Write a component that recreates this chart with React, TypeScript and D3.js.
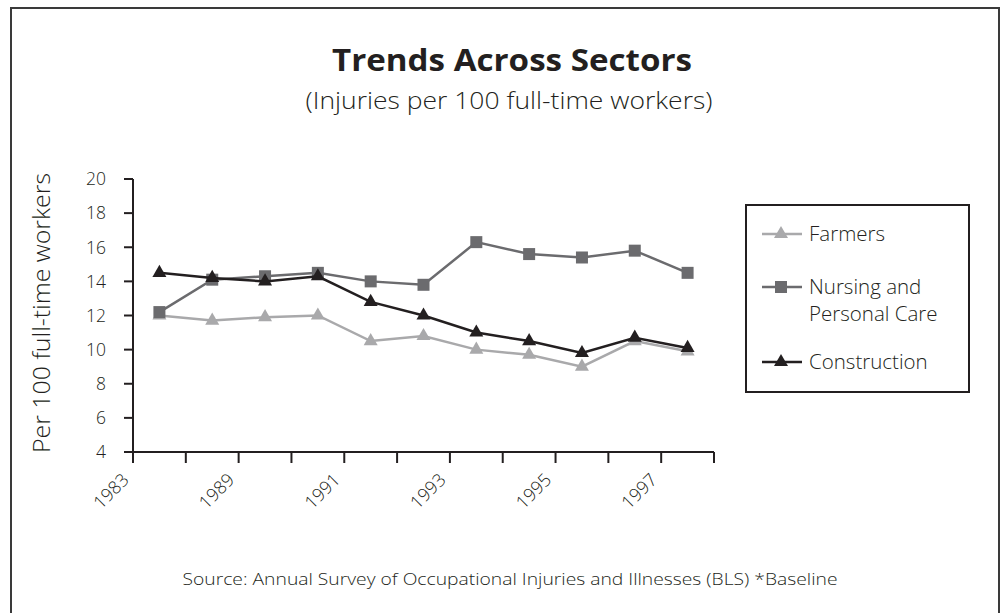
import React from "react";
import * as d3 from "d3";

const categories = ["1983", "1985", "1989", "1990", "1991", "1992", "1993", "1994", "1995", "1996", "1997"];
const tickLabels = ["1983", "1989", "1991", "1993", "1995", "1997"];
const tickLabelBoundaries = [0, 2, 4, 6, 8, 10];
const farmers = [12.0, 11.7, 11.9, 12.0, 10.5, 10.8, 10.0, 9.7, 9.0, 10.5, 9.9];
const nursing = [12.2, 14.1, 14.3, 14.5, 14.0, 13.8, 16.3, 15.6, 15.4, 15.8, 14.5];
const construction = [14.5, 14.2, 14.0, 14.3, 12.8, 12.0, 11.0, 10.5, 9.8, 10.7, 10.1];
const yTicks = [4, 6, 8, 10, 12, 14, 16, 18, 20];

const FONT = "'Open Sans', 'Noto Sans', sans-serif";
const LIGHT = 300;

const series = [
  { name: ["Farmers"], values: farmers, color: "#a9a9ab", marker: "triangle" },
  { name: ["Nursing and", "Personal Care"], values: nursing, color: "#6b6b6e", marker: "square" },
  { name: ["Construction"], values: construction, color: "#231f20", marker: "triangle" },
];

function Marker({ type, x, y, color }: { type: string; x: number; y: number; color: string }) {
  if (type === "square") {
    return <rect x={x - 6} y={y - 6} width={12} height={12} fill={color} />;
  }
  const p = d3.symbol().type(d3.symbolTriangle).size(85)();
  return <path d={p || ""} transform={`translate(${x},${y})`} fill={color} />;
}

export default function App() {
  const W = 1003, H = 613;
  const x0 = 133, x1 = 714, yTop = 179, yBot = 452;
  const band = d3.scaleBand<string>().domain(categories).range([x0, x1]).paddingInner(0).paddingOuter(0);
  const y = d3.scaleLinear().domain([4, 20]).range([yBot, yTop]);
  const cx = (c: string) => (band(c) as number) + band.bandwidth() / 2;
  const line = d3.line<number>().x((_, i) => cx(categories[i])).y((v) => y(v));
  const boundaries = d3.range(categories.length + 1).map((i) => x0 + i * band.bandwidth());

  const legendRows = [234, 287, 362];

  return (
    <svg width={W} height={H} style={{ position: "absolute", left: 0, top: 0, fontFamily: FONT }}>
      <rect x={0} y={0} width={W} height={H} fill="#fff" />
      <rect x={11} y={8} width={988} height={620} fill="none" stroke="#3a3a3a" strokeWidth={2} />
      <text x={512} y={71} textAnchor="middle" fontSize={30} fontWeight="bold" fill="#231f20"
        textLength={360} lengthAdjust="spacingAndGlyphs">
        Trends Across Sectors
      </text>
      <text x={509} y={109} textAnchor="middle" fontSize={23} fontWeight={LIGHT} fill="#231f20"
        textLength={407} lengthAdjust="spacingAndGlyphs">
        (Injuries per 100 full-time workers)
      </text>
      <text
        transform={`translate(50,${313}) rotate(-90)`}
        textAnchor="middle"
        fontSize={23}
        fontWeight={LIGHT}
        fill="#231f20"
        textLength={280}
        lengthAdjust="spacingAndGlyphs"
      >
        Per 100 full-time workers
      </text>
      {/* y axis */}
      <line x1={x0} x2={x0} y1={yTop} y2={yBot} stroke="#231f20" strokeWidth={2} />
      {yTicks.map((t) => (
        <g key={t}>
          <line x1={x0 - 9} x2={x0} y1={y(t)} y2={y(t)} stroke="#231f20" strokeWidth={2} />
          <text x={106} y={y(t)} dy="0.36em" textAnchor="end" fontSize={17.5} fontWeight={LIGHT} fill="#231f20">
            {t}
          </text>
        </g>
      ))}
      {/* x axis */}
      <line x1={x0} x2={x1} y1={yBot} y2={yBot} stroke="#231f20" strokeWidth={2} />
      {boundaries.map((bx, i) => (
        <line key={i} x1={bx} x2={bx} y1={yBot} y2={yBot + 11} stroke="#231f20" strokeWidth={2} />
      ))}
      {tickLabels.map((l, i) => (
        <text
          key={l}
          transform={`translate(${boundaries[tickLabelBoundaries[i]] - 3},${yBot + 29}) rotate(-45)`}
          textAnchor="end"
          fontSize={18}
          fontWeight={LIGHT}
          fill="#231f20"
        >
          {l}
        </text>
      ))}
      {/* series */}
      {series.map((s) => (
        <g key={s.name[0]}>
          <path d={line(s.values) || ""} fill="none" stroke={s.color} strokeWidth={2.5} />
          {s.values.map((v, i) => (
            <Marker key={i} type={s.marker} x={cx(categories[i])} y={y(v)} color={s.color} />
          ))}
        </g>
      ))}
      {/* legend */}
      <rect x={746} y={205} width={223} height={187} fill="none" stroke="#231f20" strokeWidth={2} />
      {series.map((s, k) => (
        <g key={s.name[0]}>
          <line x1={762} x2={802} y1={legendRows[k]} y2={legendRows[k]} stroke={s.color} strokeWidth={2.5} />
          <Marker type={s.marker} x={781} y={legendRows[k]} color={s.color} />
          {s.name.map((n, j) => (
            <text key={n} x={809} y={legendRows[k] + 7 + j * 27} fontSize={20.5} fontWeight={LIGHT} fill="#231f20">
              {n}
            </text>
          ))}
        </g>
      ))}
      <text x={510} y={585} textAnchor="middle" fontSize={16.5} fontWeight={LIGHT} fill="#231f20"
        textLength={655} lengthAdjust="spacingAndGlyphs">
        Source: Annual Survey of Occupational Injuries and Illnesses (BLS) *Baseline
      </text>
    </svg>
  );
}
